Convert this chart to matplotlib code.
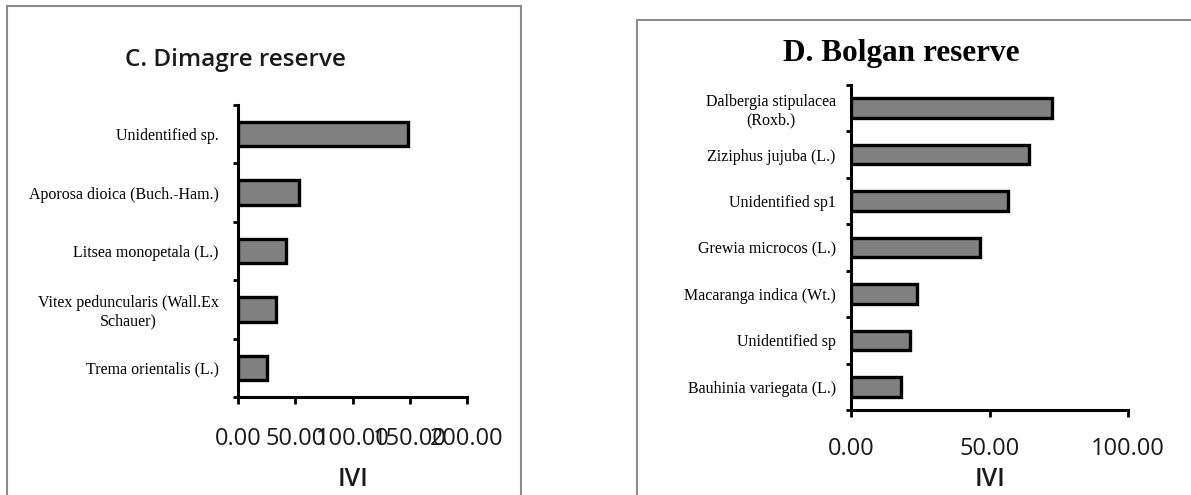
import matplotlib
matplotlib.use("Agg")
import matplotlib.pyplot as plt
from matplotlib.patches import Rectangle
import numpy as np

# C. Dimagre reserve (top to bottom)
dim_species = ["Unidentified sp.", "Aporosa dioica (Buch.-Ham.)", "Litsea monopetala (L.)",
               "Vitex peduncularis (Wall.Ex\nSchauer)", "Trema orientalis (L.)"]
dim_ivi = [148.5, 53.3, 42.0, 33.3, 25.7]
dim_ticks = [0, 50, 100, 150, 200]

# D. Bolgan reserve (top to bottom)
bol_species = ["Dalbergia stipulacea\n(Roxb.)", "Ziziphus jujuba (L.)", "Unidentified sp1",
               "Grewia microcos (L.)", "Macaranga indica (Wt.)", "Unidentified sp",
               "Bauhinia variegata (L.)"]
bol_ivi = [72.4, 64.1, 56.7, 46.5, 23.7, 21.3, 18.0]
bol_ticks = [0, 50, 100]

W, H = 1191, 495
fig = plt.figure(figsize=(W / 100, H / 100), dpi=100)

# panel frames
fig.patches.append(Rectangle((7 / W, -0.1), (521 - 7) / W, 1.1 - 6 / H, transform=fig.transFigure,
                             fill=False, edgecolor="#8c8c8c", linewidth=1.5))
fig.patches.append(Rectangle((637 / W, -0.1), 0.5, 1.1 - 20 / H, transform=fig.transFigure,
                             fill=False, edgecolor="#8c8c8c", linewidth=1.5))


def draw(ax, species, vals, ticks, ypad, xpad):
    n = len(species)
    y = np.arange(n)[::-1]
    ax.barh(y, vals, height=0.42, color="#808080", edgecolor="black", linewidth=2.4, zorder=3)
    ax.set_ylim(-0.5, n - 0.5)
    ax.set_xlim(ticks[0], ticks[-1])
    ax.set_yticks(y)
    ax.set_yticklabels(species, family="Liberation Serif", fontsize=11.5)
    for lab in ax.get_yticklabels():
        lab.set_multialignment("center")
    ax.tick_params(axis="y", which="major", length=0, pad=ypad)
    ax.set_yticks(np.arange(n + 1) - 0.5, minor=True)
    ax.tick_params(axis="y", which="minor", length=3.5, width=2, direction="out")
    ax.set_xticks(ticks)
    ax.set_xticklabels([f"{t:.2f}" for t in ticks], family="Open Sans", fontsize=17,
                       color="#1a1a1a")
    ax.tick_params(axis="x", length=5, width=2, direction="out", pad=xpad)
    for s in ["top", "right"]:
        ax.spines[s].set_visible(False)
    for s in ["left", "bottom"]:
        ax.spines[s].set_linewidth(2.2)


ax1 = fig.add_axes([238 / W, 1 - 397 / H, (467 - 238) / W, (397 - 105) / H])
draw(ax1, dim_species, dim_ivi, dim_ticks, ypad=14, xpad=16.5)
fig.text(235 / W, 1 - 60 / H, "C. Dimagre reserve", ha="center", va="center",
         family="Open Sans", fontsize=17.5, fontweight="semibold", color="#1a1a1a")
fig.text(352.5 / W, 1 - 480 / H, "IVI", ha="center", va="center",
         family="Open Sans", fontsize=18, fontweight="semibold", color="#1a1a1a")

ax2 = fig.add_axes([851 / W, 1 - 410 / H, (1128 - 851) / W, (410 - 85) / H])
draw(ax2, bol_species, bol_ivi, bol_ticks, ypad=11, xpad=14.5)
fig.text(901 / W, 1 - 53 / H, "D. Bolgan reserve", ha="center", va="center",
         family="Liberation Serif", fontsize=22.5, fontweight="bold")
fig.text(990 / W, 1 - 480 / H, "IVI", ha="center", va="center",
         family="Open Sans", fontsize=18, fontweight="semibold", color="#1a1a1a")

fig.savefig("out.png", dpi=100)
